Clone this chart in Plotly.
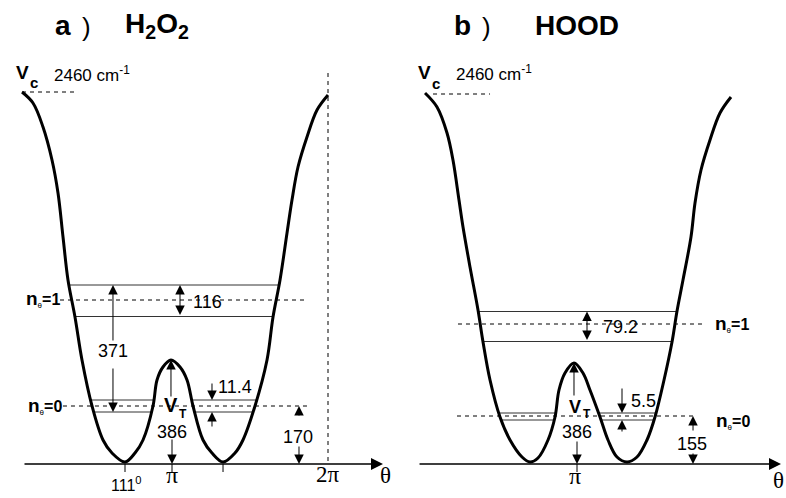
import numpy as np
import plotly.graph_objects as go

# ---------------- data ----------------
panel_letters = ["a", "b"]
molecules = ["H<sub>2</sub>O<sub>2</sub>", "HOOD"]
ceiling_text = "2460 cm<sup>-1</sup>"
barrier_cm = [386, 386]          # V_T
zpe_cm = [170, 155]              # n=0 above the minimum
split_n0 = [11.4, 5.5]
split_n1 = [116, 79.2]
gap_01_cm = 371                  # H2O2 only
min_angle_label = "111<sup>0</sup>"

# schematic torsional potentials: angle (rad) vs drawn height (arb. units)
theta_a = [0.121, 0.342, 0.544, 0.725, 0.846, 0.947, 1.047, 1.188, 1.329, 1.531, 1.752, 1.933,
           2.195, 2.396, 2.558, 2.759, 2.840, 2.960, 3.121, 3.303, 3.444, 3.565, 3.766, 3.947,
           4.169, 4.410, 4.571, 4.813, 5.055, 5.176, 5.317, 5.458, 5.558, 5.679, 5.860, 6.062, 6.283]
v_a = [372, 361, 337, 304, 271, 227, 184, 147, 104, 58, 24, 11,
       2, 11, 24, 58, 84, 97, 104, 97, 84, 58, 24, 11,
       2, 11, 24, 58, 104, 147, 184, 231, 264, 297, 327, 354, 369]
theta_b = [0.081, 0.322, 0.524, 0.644, 0.765, 0.846, 0.987, 1.148, 1.249, 1.390, 1.591, 1.793, 2.034,
           2.195, 2.356, 2.558, 2.699, 2.779, 2.900, 3.081, 3.262, 3.403, 3.605, 3.766, 3.947,
           4.149, 4.350, 4.551, 4.712, 4.894, 5.055, 5.156, 5.276, 5.437, 5.518, 5.639, 5.820,
           6.021, 6.243]
v_b = [371, 357, 331, 304, 264, 237, 197, 154, 122, 84, 47, 24, 7,
       2, 6, 24, 47, 74, 91, 101, 91, 74, 47, 24, 7,
       2, 7, 24, 47, 84, 122, 153, 184, 227, 261, 294, 324,
       351, 367]

# drawn level heights: [n0 lower, n0, n0 upper, n1 lower, n1, n1 upper]
levels_a = [52, 58, 64, 147.5, 164, 179]
levels_b = [44, 48, 51, 122.5, 140, 152.5]
vc_height = [372, 370]

# ---------------- layout helpers ----------------
S = 156 / np.pi          # pixels per radian of the drawing
SANS = "Liberation Sans, Arial, sans-serif"
SERIF = "Liberation Serif, Times New Roman, serif"
BLACK = "black"

fig = go.Figure()
ann = []


def refs(p):
    return ("x", "y") if p == 0 else ("x2", "y2")


def crossings(th, v, level):
    out = []
    for i in range(len(v) - 1):
        a, b = v[i] - level, v[i + 1] - level
        if a == 0:
            out.append(th[i])
        elif a * b < 0:
            t = a / (a - b)
            out.append(th[i] + t * (th[i + 1] - th[i]))
    return out


def line(p, xs, ys, width=1, dash=None, color=BLACK, shape="linear"):
    xr, yr = refs(p)
    fig.add_trace(go.Scatter(x=xs, y=ys, mode="lines", xaxis=xr, yaxis=yr,
                             line=dict(color=color, width=width, dash=dash, shape=shape),
                             hoverinfo="skip", showlegend=False))


def arrow(p, x, y_tail, y_tip, both=False, x_tail=None, width=1, size=1.9):
    xr, yr = refs(p)
    ann.append(dict(x=x, y=y_tip, ax=x if x_tail is None else x_tail, ay=y_tail,
                    xref=xr, yref=yr, axref=xr, ayref=yr, text="", showarrow=True,
                    arrowhead=2, arrowsize=size, arrowwidth=width, arrowcolor=BLACK,
                    startarrowhead=2, startarrowsize=size,
                    arrowside="end+start" if both else "end"))


def txt(p, x, y, s, size, family=SANS, xanchor="center"):
    xr, yr = refs(p)
    ann.append(dict(x=x, y=y, xref=xr, yref=yr, text=s, showarrow=False,
                    xanchor=xanchor, yanchor="middle",
                    font=dict(family=family, size=size, color=BLACK)))


curves = [(theta_a, v_a), (theta_b, v_b)]
levels = [levels_a, levels_b]

for p in range(2):
    th, v = curves[p]
    lv = levels[p]
    # solid level lines (wall to wall)
    xs, ys = [], []
    for k in (0, 2):
        c = crossings(th, v, lv[k])
        xs += [c[0], c[1], None, c[2], c[3], None]
        ys += [lv[k], lv[k], None, lv[k], lv[k], None]
    for k in (3, 5):
        c = crossings(th, v, lv[k])
        xs += [c[0], c[-1], None]
        ys += [lv[k], lv[k], None]
    line(p, xs, ys, width=1, color="#333333")
    # potential curve
    line(p, th, v, width=3, shape="spline")

# dashed reference lines
DASH = "4px,4px"
line(0, [0.886, 5.82], [levels_a[4]] * 2, dash=DASH)
line(0, [0.946, 5.88], [levels_a[1]] * 2, dash=DASH)
line(0, [0.121, 1.249], [vc_height[0]] * 2, dash=DASH)
line(0, [2 * np.pi, 2 * np.pi], [391, 0], dash=DASH)
line(1, [0.745, 5.72], [levels_b[4]] * 2, dash=DASH)
line(1, [0.725, 5.48], [levels_b[1]] * 2, dash=DASH)
line(1, [0.242, 1.390], [vc_height[1]] * 2, dash=DASH)

# ticks
line(0, [theta_a[int(np.argmin(v_a[:18]))]] * 2, [0, -8], width=1)
line(0, [np.pi, np.pi], [0, -8], width=1)
line(0, [theta_a[18 + int(np.argmin(v_a[18:30]))]] * 2, [0, -8], width=1)
line(1, [np.pi, np.pi], [0, -8], width=1)

# theta axes with arrows
arrow(0, 7.391, 0, 0, x_tail=0.141, width=1.5, size=1.6)
arrow(1, 7.25, 0, 0, x_tail=-0.060, width=1.5, size=1.6)

# ---- panel a arrows ----
arrow(0, 3.303, levels_a[3], levels_a[5], both=True)
arrow(0, 1.953, 122, levels_a[5])
arrow(0, 1.953, 97, levels_a[0])
arrow(0, 3.947, 82, levels_a[2])
arrow(0, 3.947, 36, levels_a[0])
arrow(0, 3.121, 66, max(v_a[10:28]))
arrow(0, np.pi, 26, 0)
arrow(0, 5.699, 47, levels_a[1])
arrow(0, 5.699, 19, 0)
# ---- panel b arrows ----
arrow(1, 3.343, levels_b[3], levels_b[5], both=True)
arrow(1, 4.048, 77, levels_b[2])
arrow(1, 4.048, 31, levels_b[0])
arrow(1, 3.081, 67, max(v_b[10:28]))
arrow(1, np.pi, 24, 0)
arrow(1, 5.478, 32, levels_b[1])
arrow(1, 5.478, 12, 0)

# ---- titles ----
for p, (xl, xp, xm) in enumerate([(0.947, 1.41, 2.84), (0.826, 1.329, np.pi)]):
    txt(p, xl, 438.8, "<b>%s</b>" % panel_letters[p], 28)
    txt(p, xp, 436.6, ")", 26)
    txt(p, xm, 438.8, "<b>%s</b>" % molecules[p], 28)

# ---- V_c labels ----
txt(0, 0.131, 392, "<b>V</b>", 19)
txt(0, 0.362, 382, "<b>c</b>", 15)
txt(0, 1.530, 390, ceiling_text, 17)
txt(1, 0.070, 392, "<b>V</b>", 19)
txt(1, 0.312, 381, "<b>c</b>", 15)
txt(1, 1.460, 391, ceiling_text, 17)

# ---- n labels ----
NLAB = ("<b><span style='font-size:19px'>n</span></b>"
        "<sub><span style='font-size:8px'>θ</span></sub><b>=%d</b>")
txt(0, 0.534, 164.6, NLAB % 1, 16)
txt(0, 0.584, 58, NLAB % 0, 16)
txt(1, 6.263, 139.6, NLAB % 1, 16)
txt(1, 6.293, 42.6, NLAB % 0, 16)

# ---- numbers ----
txt(0, 3.857, 162.3, str(split_n1[0]), 18)
txt(0, 1.953, 113.3, str(gap_01_cm), 18)
txt(0, 4.410, 77.3, str(split_n0[0]), 18)
txt(0, 5.679, 27.3, str(zpe_cm[0]), 18)
txt(0, np.pi, 32.3, str(barrier_cm[0]), 18)
txt(1, 4.008, 137.3, str(split_n1[1]), 18)
txt(1, 4.471, 63.3, str(split_n0[1]), 18)
txt(1, 5.458, 20.3, str(zpe_cm[1]), 18)
txt(1, np.pi, 32.3, str(barrier_cm[1]), 18)

# ---- V_T labels ----
txt(0, 3.131, 59, "<b>V</b>", 20)
txt(0, 3.373, 50, "<b>T</b>", 12)
txt(1, 3.111, 57, "<b>V</b>", 18)
txt(1, 3.343, 50, "<b>T</b>", 12)

# ---- axis labels ----
txt(0, np.pi, -10.5, "π", 24, family=SERIF)
txt(0, 2 * np.pi, -10.5, "2π", 23, family=SERIF)
txt(0, 7.431, -11.5, "θ", 23, family=SERIF)
txt(0, 2.235, -20.4, min_angle_label, 16)
txt(1, 3.101, -11.5, "π", 24, family=SERIF)
txt(1, 7.19, -16, "θ", 23, family=SERIF)

ax_common = dict(visible=False, showgrid=False, zeroline=False, fixedrange=True)
fig.update_layout(
    width=786, height=498,
    margin=dict(l=0, r=0, t=0, b=0),
    paper_bgcolor="white", plot_bgcolor="white",
    showlegend=False,
    xaxis=dict(domain=[0, 400 / 786], range=[(0 - 16) / S, (400 - 16) / S], **ax_common),
    yaxis=dict(domain=[0, 1], range=[-34, 464], **ax_common),
    xaxis2=dict(domain=[400 / 786, 1], range=[(400 - 421) / S, (786 - 421) / S], anchor="y2", **ax_common),
    yaxis2=dict(domain=[0, 1], range=[-34, 464], anchor="x2", **ax_common),
    annotations=ann,
)

fig.write_html("out.html", config={"displayModeBar": False},
               post_script="document.body.style.margin='0px';document.body.style.overflow='hidden';")
